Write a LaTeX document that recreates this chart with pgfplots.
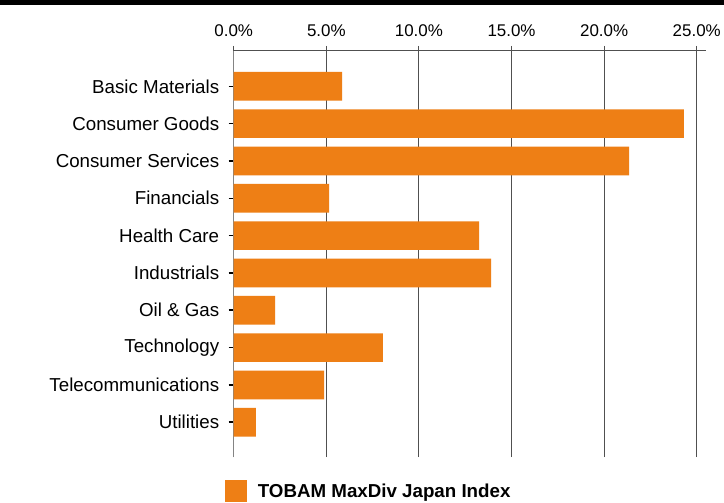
\documentclass[border=0pt]{standalone}
\usepackage{pgfplots}
\pgfplotsset{compat=1.18}
\usepackage{fontspec}
\setmainfont{Liberation Sans}
\definecolor{barorange}{RGB}{238,127,21}
\definecolor{gridgray}{RGB}{80,80,80}
\begin{document}
\begin{tikzpicture}
\useasboundingbox (0,0) rectangle (724bp,503bp);
\fill[white] (0,0) rectangle (724bp,503bp);
\draw[black, line width=4.5bp] (0,500.5bp) -- (724bp,500.5bp);
\begin{axis}[
  at={(233.7bp,46bp)}, anchor=south west,
  scale only axis,
  width=472.3bp, height=406bp,
  xbar, bar width=28.7bp,
  xmin=0, xmax=25.5,
  ymin=-0.93, ymax=9.946,
  axis x line*=top,
  axis y line*=left,
  x axis line style={-, color=gridgray, line width=1bp},
  y axis line style={-, color=gridgray!70, line width=1bp},
  xtick={0,5,10,15,20,25},
  xticklabel={\pgfmathprintnumber[fixed,fixed zerofill,precision=1]{\tick}\%},
  /pgf/number format/assume math mode=true,
  xtick align=outside,
  major x tick style={gridgray, line width=1bp},
  xmajorgrids,
  major x grid style={gridgray, line width=1bp},
  x tick label style={font=\fontsize{17}{17}\selectfont, text=black},
  xticklabel shift=6bp,
  ytick={0,...,9},
  yticklabels={Utilities,Telecommunications,Technology,Oil \& Gas,Industrials,Health Care,Financials,Consumer Services,Consumer Goods,Basic Materials},
  ytick align=outside,
  major y tick style={black, line width=1.6bp},
  y tick label style={font=\fontsize{18.8}{18.8}\selectfont, text=black},
  yticklabel shift=6bp,
  major tick length=5bp,
  legend style={at={(axis description cs:-0.018,-0.084)}, anchor=west, draw=none, fill=none, inner sep=0pt,
    font=\bfseries\fontsize{18.8}{18.8}\selectfont},
  legend image code/.code={\fill[#1] (0bp,-10.8bp) rectangle (21.7bp,10.8bp); \path (30.5bp,0bp);},
  legend cell align=left,
]
\addplot[fill=barorange, draw=none] coordinates {
  (1.20,0) (4.88,1) (8.06,2) (2.23,3) (13.90,4) (13.25,5) (5.15,6) (21.35,7) (24.31,8) (5.85,9)
};
\addlegendentry{TOBAM MaxDiv Japan Index}
\end{axis}
\end{tikzpicture}
\end{document}
